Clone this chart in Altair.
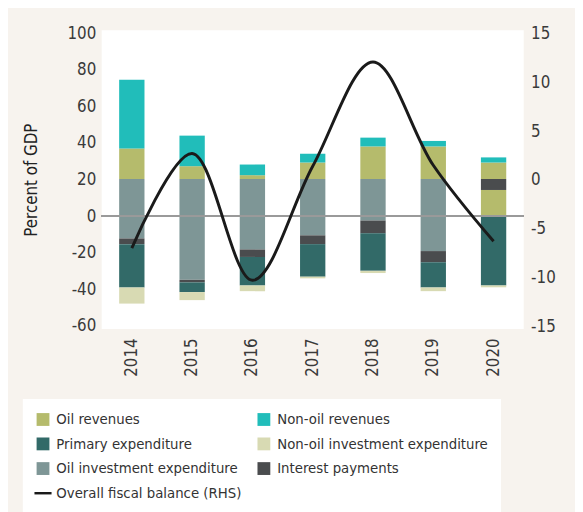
import altair as alt
import pandas as pd

years = ["2014", "2015", "2016", "2017", "2018", "2019", "2020"]

# Stacked segments (percent of GDP); positives stack upward from 0, negatives downward
oil_inv_above = [20.3, 20.3, 20.3, 20.3, 20.3, 20.3, 0.0]
oil_inv_below = [-12.2, -34.8, -18.2, -10.5, -2.4, -19.1, 0.0]
oil_rev_base = [0.0, 0.0, 0.0, 0.0, 0.0, 0.0, 14.3]
interest = [-3.1, -1.4, -4.1, -4.8, -7.0, -6.1, 6.0]
oil_revenues = [16.7, 7.0, 2.1, 9.0, 17.8, 17.8, 9.0]
non_oil_revenues = [37.5, 16.7, 5.8, 4.8, 4.8, 3.0, 2.8]
primary = [-23.7, -5.3, -15.6, -17.8, -20.5, -13.8, -37.9]
non_oil_inv = [-8.8, -4.4, -3.1, -0.9, -1.2, -2.0, -1.0]

balance = [-7.0, 2.7, -10.3, 1.4, 12.1, 1.5, -6.3]

S_OIL = "Oil revenues"
S_NONOIL = "Non-oil revenues"
S_PRIM = "Primary expenditure"
S_NOIE = "Non-oil investment expenditure"
S_OIE = "Oil investment expenditure"
S_INT = "Interest payments"
S_BAL = "Overall fiscal balance (RHS)"

domain = [S_OIL, S_NONOIL, S_PRIM, S_NOIE, S_OIE, S_INT, S_BAL]
colors = ["#b5bb6c", "#21bdba", "#326a68", "#d8dab3", "#7e9696", "#4a4c4e", "#1a1a1a"]

series = [
    (S_OIE, oil_inv_above, 1),
    (S_OIE, oil_inv_below, 1),
    (S_OIL, oil_rev_base, 2),
    (S_INT, interest, 3),
    (S_OIL, oil_revenues, 4),
    (S_PRIM, primary, 4),
    (S_NONOIL, non_oil_revenues, 5),
    (S_NOIE, non_oil_inv, 6),
]
rows = []
for name, vals, order in series:
    for y, v in zip(years, vals):
        if v != 0:
            rows.append({"year": y, "series": name, "value": v, "ord": order})
bars_df = pd.DataFrame(rows)
line_df = pd.DataFrame({"year": years, "bal": balance, "series": S_BAL})

FONT = "DejaVu Sans Condensed, sans-serif"
TXT = "#3a3a3a"
HYPHEN = "replace(datum.label, '\u2212', '-')"

color_scale = alt.Scale(domain=domain, range=colors)
xenc = alt.X("year:N", sort=years, title=None,
             scale=alt.Scale(paddingInner=0.58, paddingOuter=0.29),
             axis=alt.Axis(labelAngle=270, ticks=False, domain=False, labelPadding=9,
                           labelFontSize=17, labelColor=TXT, labelFont=FONT))

is_line = f"datum.value === '{S_BAL}'"
legend = alt.Legend(
    title=None, orient="none", legendX=-80, legendY=374, columns=2, direction="horizontal",
    fillColor="white", padding=13, labelFontSize=15, labelFont=FONT, labelColor="#333333",
    labelLimit=400, rowPadding=9, columnPadding=15, labelOffset=6,
    symbolType={"expr": f"{is_line} ? 'stroke' : 'square'"},
    symbolSize={"expr": f"{is_line} ? 300 : 169"},
    symbolStrokeColor={"expr": f"{is_line} ? '#1a1a1a' : 'transparent'"},
    symbolStrokeWidth={"expr": f"{is_line} ? 2.5 : 0"},
    symbolOpacity=1,
)

left_axis = alt.Axis(values=[-60, -40, -20, 0, 20, 40, 60, 80, 100], title="Percent of GDP",
                     grid=False, ticks=False, domain=False, labelPadding=6,
                     labelOverlap=False, labelExpr=HYPHEN,
                     labelFontSize=17, labelColor=TXT, labelFont=FONT,
                     titleFontSize=17, titleFontWeight="normal", titleColor="#222222",
                     titleFont=FONT, titlePadding=27)
left_scale = alt.Scale(domain=[-61.7, 101.6], nice=False, zero=False)

bars = alt.Chart(bars_df).mark_bar(opacity=1).encode(
    x=xenc,
    y=alt.Y("value:Q", stack="zero", scale=left_scale, axis=left_axis),
    color=alt.Color("series:N", scale=color_scale, legend=legend),
    order=alt.Order("ord:Q"),
)

rule = alt.Chart(bars_df).mark_rule(color="#9a9a9a", strokeWidth=1.5).encode(
    y=alt.Y(datum=0, scale=left_scale, axis=left_axis)
)

line = alt.Chart(line_df).mark_line(strokeWidth=3, interpolate="catmull-rom").encode(
    x=alt.X("year:N", sort=years),
    y=alt.Y("bal:Q", scale=alt.Scale(domain=[-15.3, 15.35], nice=False, zero=False),
            axis=alt.Axis(orient="right", values=[-15, -10, -5, 0, 5, 10, 15], title=None,
                          grid=False, ticks=False, domain=False, labelPadding=7,
                          labelOverlap=False, labelExpr=HYPHEN,
                          labelFontSize=17, labelColor=TXT, labelFont=FONT)),
    color=alt.Color("series:N", scale=color_scale, legend=legend),
)

chart = alt.layer(alt.layer(bars, rule), line).resolve_scale(y="independent").properties(
    width=428, height=303,
    autosize=alt.AutoSizeParams(type="none"),
    padding={"left": 95, "top": 19, "right": 52, "bottom": 182},
    background="#f7f3ee",
).configure_view(fill="white", stroke=None).configure_axis(labelOverlap=False)

chart.save("out.html", embed_options={"renderer": "svg", "actions": False})
